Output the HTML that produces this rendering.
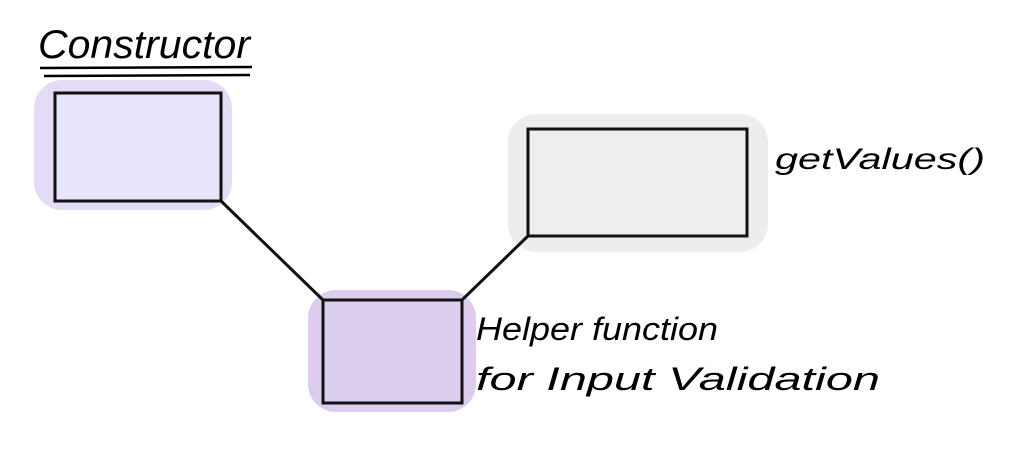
<!DOCTYPE html>
<html><head><meta charset="utf-8"><style>
html,body{margin:0;padding:0;background:#fff;width:1018px;height:459px;overflow:hidden}
text{font-family:"Liberation Sans",sans-serif;font-style:italic;fill:#000}
</style></head><body>
<svg width="1018" height="459" viewBox="0 0 1018 459" xmlns="http://www.w3.org/2000/svg">
<g>
<text x="38" y="58" font-size="40" textLength="212" lengthAdjust="spacingAndGlyphs">Constructor</text>
<path d="M40 68 L252 67" stroke="#000" stroke-width="2.5" fill="none"/>
<path d="M44 76 L250 75" stroke="#000" stroke-width="2.5" fill="none"/>
</g>
<rect x="34" y="80" width="198" height="130" rx="28" fill="#e4dcf7"/>
<rect x="55" y="93" width="166" height="108" fill="#e8e4fb" stroke="#111" stroke-width="3"/>
<rect x="508" y="114" width="260" height="138" rx="28" fill="#eeedeb"/>
<rect x="528" y="129" width="219" height="107" fill="#efeeec" stroke="#111" stroke-width="3"/>
<rect x="308" y="290" width="168" height="122" rx="28" fill="#dccdee"/>
<rect x="323" y="300" width="139" height="103" fill="#dccfee" stroke="#111" stroke-width="3"/>
<line x1="221" y1="201" x2="323" y2="300" stroke="#111" stroke-width="3"/>
<line x1="462" y1="300" x2="528" y2="236" stroke="#111" stroke-width="3"/>
<text x="775" y="169" font-size="30" textLength="210" lengthAdjust="spacingAndGlyphs">getValues()</text>
<text x="476" y="340" font-size="32" textLength="242" lengthAdjust="spacingAndGlyphs">Helper function</text>
<text x="476" y="390" font-size="32" textLength="404" lengthAdjust="spacingAndGlyphs">for Input Validation</text>
</svg>
</body></html>
